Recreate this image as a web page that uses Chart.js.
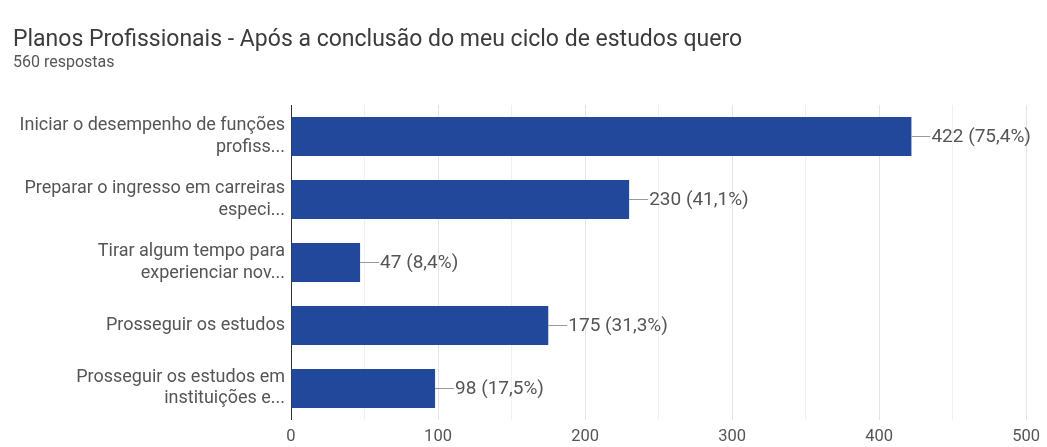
<!DOCTYPE html>
<html>
<head>
<meta charset="utf-8">
<script src="https://cdn.jsdelivr.net/npm/chart.js@4.4.1/dist/chart.umd.min.js"></script>
<style>
    html, body { margin: 0; padding: 0; background: #fff; }
    #wrap { position: relative; width: 1047px; height: 447px; }
    #title { position: absolute; left: 13px; top: 25px; font: 23px Roboto, sans-serif; color: #3c3c3c; white-space: nowrap; }
    #subtitle { position: absolute; left: 13px; top: 52px; font: 16px Roboto, sans-serif; color: #555; }
    canvas { position: absolute; left: 0; top: 0; }
</style>
</head>
<body>
<div id="wrap">
    <canvas id="chart" width="1047" height="447"></canvas>
    <div id="title">Planos Profissionais - Após a conclusão do meu ciclo de estudos quero</div>
    <div id="subtitle">560 respostas</div>
</div>
<script>
// Data
const categories = [
    ['Iniciar o desempenho de funções', 'profiss...'],
    ['Preparar o ingresso em carreiras', 'especi...'],
    ['Tirar algum tempo para', 'experienciar nov...'],
    'Prosseguir os estudos',
    ['Prosseguir os estudos em', 'instituições e...']
];
const counts = [422, 230, 47, 175, 98];
const percents = ['75,4%', '41,1%', '8,4%', '31,3%', '17,5%'];
const xTicks = [0, 100, 200, 300, 400, 500];

const BAR_COLOR = '#22489b';
const TEXT_COLOR = '#555';

// draws the little leader line + "422 (75,4%)" after each bar
const valueLabels = {
    id: 'valueLabels',
    afterDatasetsDraw(chart) {
        const ctx = chart.ctx;
        const meta = chart.getDatasetMeta(0);
        ctx.save();
        ctx.font = '19px Roboto, sans-serif';
        ctx.textBaseline = 'middle';
        meta.data.forEach((bar, i) => {
            const x = bar.x, y = Math.round(bar.y);
            ctx.strokeStyle = '#999';
            ctx.lineWidth = 1;
            ctx.beginPath();
            ctx.moveTo(x, y + 0.5);
            ctx.lineTo(x + 19, y + 0.5);
            ctx.stroke();
            ctx.fillStyle = TEXT_COLOR;
            ctx.fillText(`${counts[i]} (${percents[i]})`, x + 20, y + 1);
        });
        ctx.restore();
    }
};

new Chart(document.getElementById('chart'), {
    type: 'bar',
    data: {
        labels: categories,
        datasets: [{
            data: counts,
            backgroundColor: BAR_COLOR,
            borderWidth: 0,
            barPercentage: 0.62,
            categoryPercentage: 1
        }]
    },
    options: {
        indexAxis: 'y',
        responsive: false,
        animation: false,
        layout: { padding: { top: 105, right: 17, left: 0, bottom: 0 } },
        plugins: {
            legend: { display: false },
            tooltip: { enabled: false }
        },
        scales: {
            x: {
                min: 0,
                max: 500,
                afterFit: (axis) => { axis.height = 26; },
                afterBuildTicks: (axis) => {
                    const t = [];
                    for (let v = 0; v <= 500; v += 50) t.push({ value: v });
                    axis.ticks = t;
                },
                ticks: {
                    color: TEXT_COLOR,
                    font: { family: 'Roboto, sans-serif', size: 16.5 },
                    padding: 7,
                    autoSkip: false,
                    maxRotation: 0,
                    callback: (v) => xTicks.includes(v) ? v : ''
                },
                grid: {
                    color: (c) => c.tick && c.tick.value % 100 === 0 ? '#e4e4e4' : '#f0f0f0',
                    drawTicks: false
                },
                border: { display: false }
            },
            y: {
                afterFit: (axis) => { axis.width = 291; },
                ticks: {
                    color: TEXT_COLOR,
                    font: { family: 'Roboto, sans-serif', size: 18, lineHeight: 1.17 },
                    padding: 6
                },
                grid: { display: false, drawTicks: false },
                border: { display: true, color: '#333', width: 1 }
            }
        }
    },
    plugins: [valueLabels]
});
</script>
</body>
</html>
